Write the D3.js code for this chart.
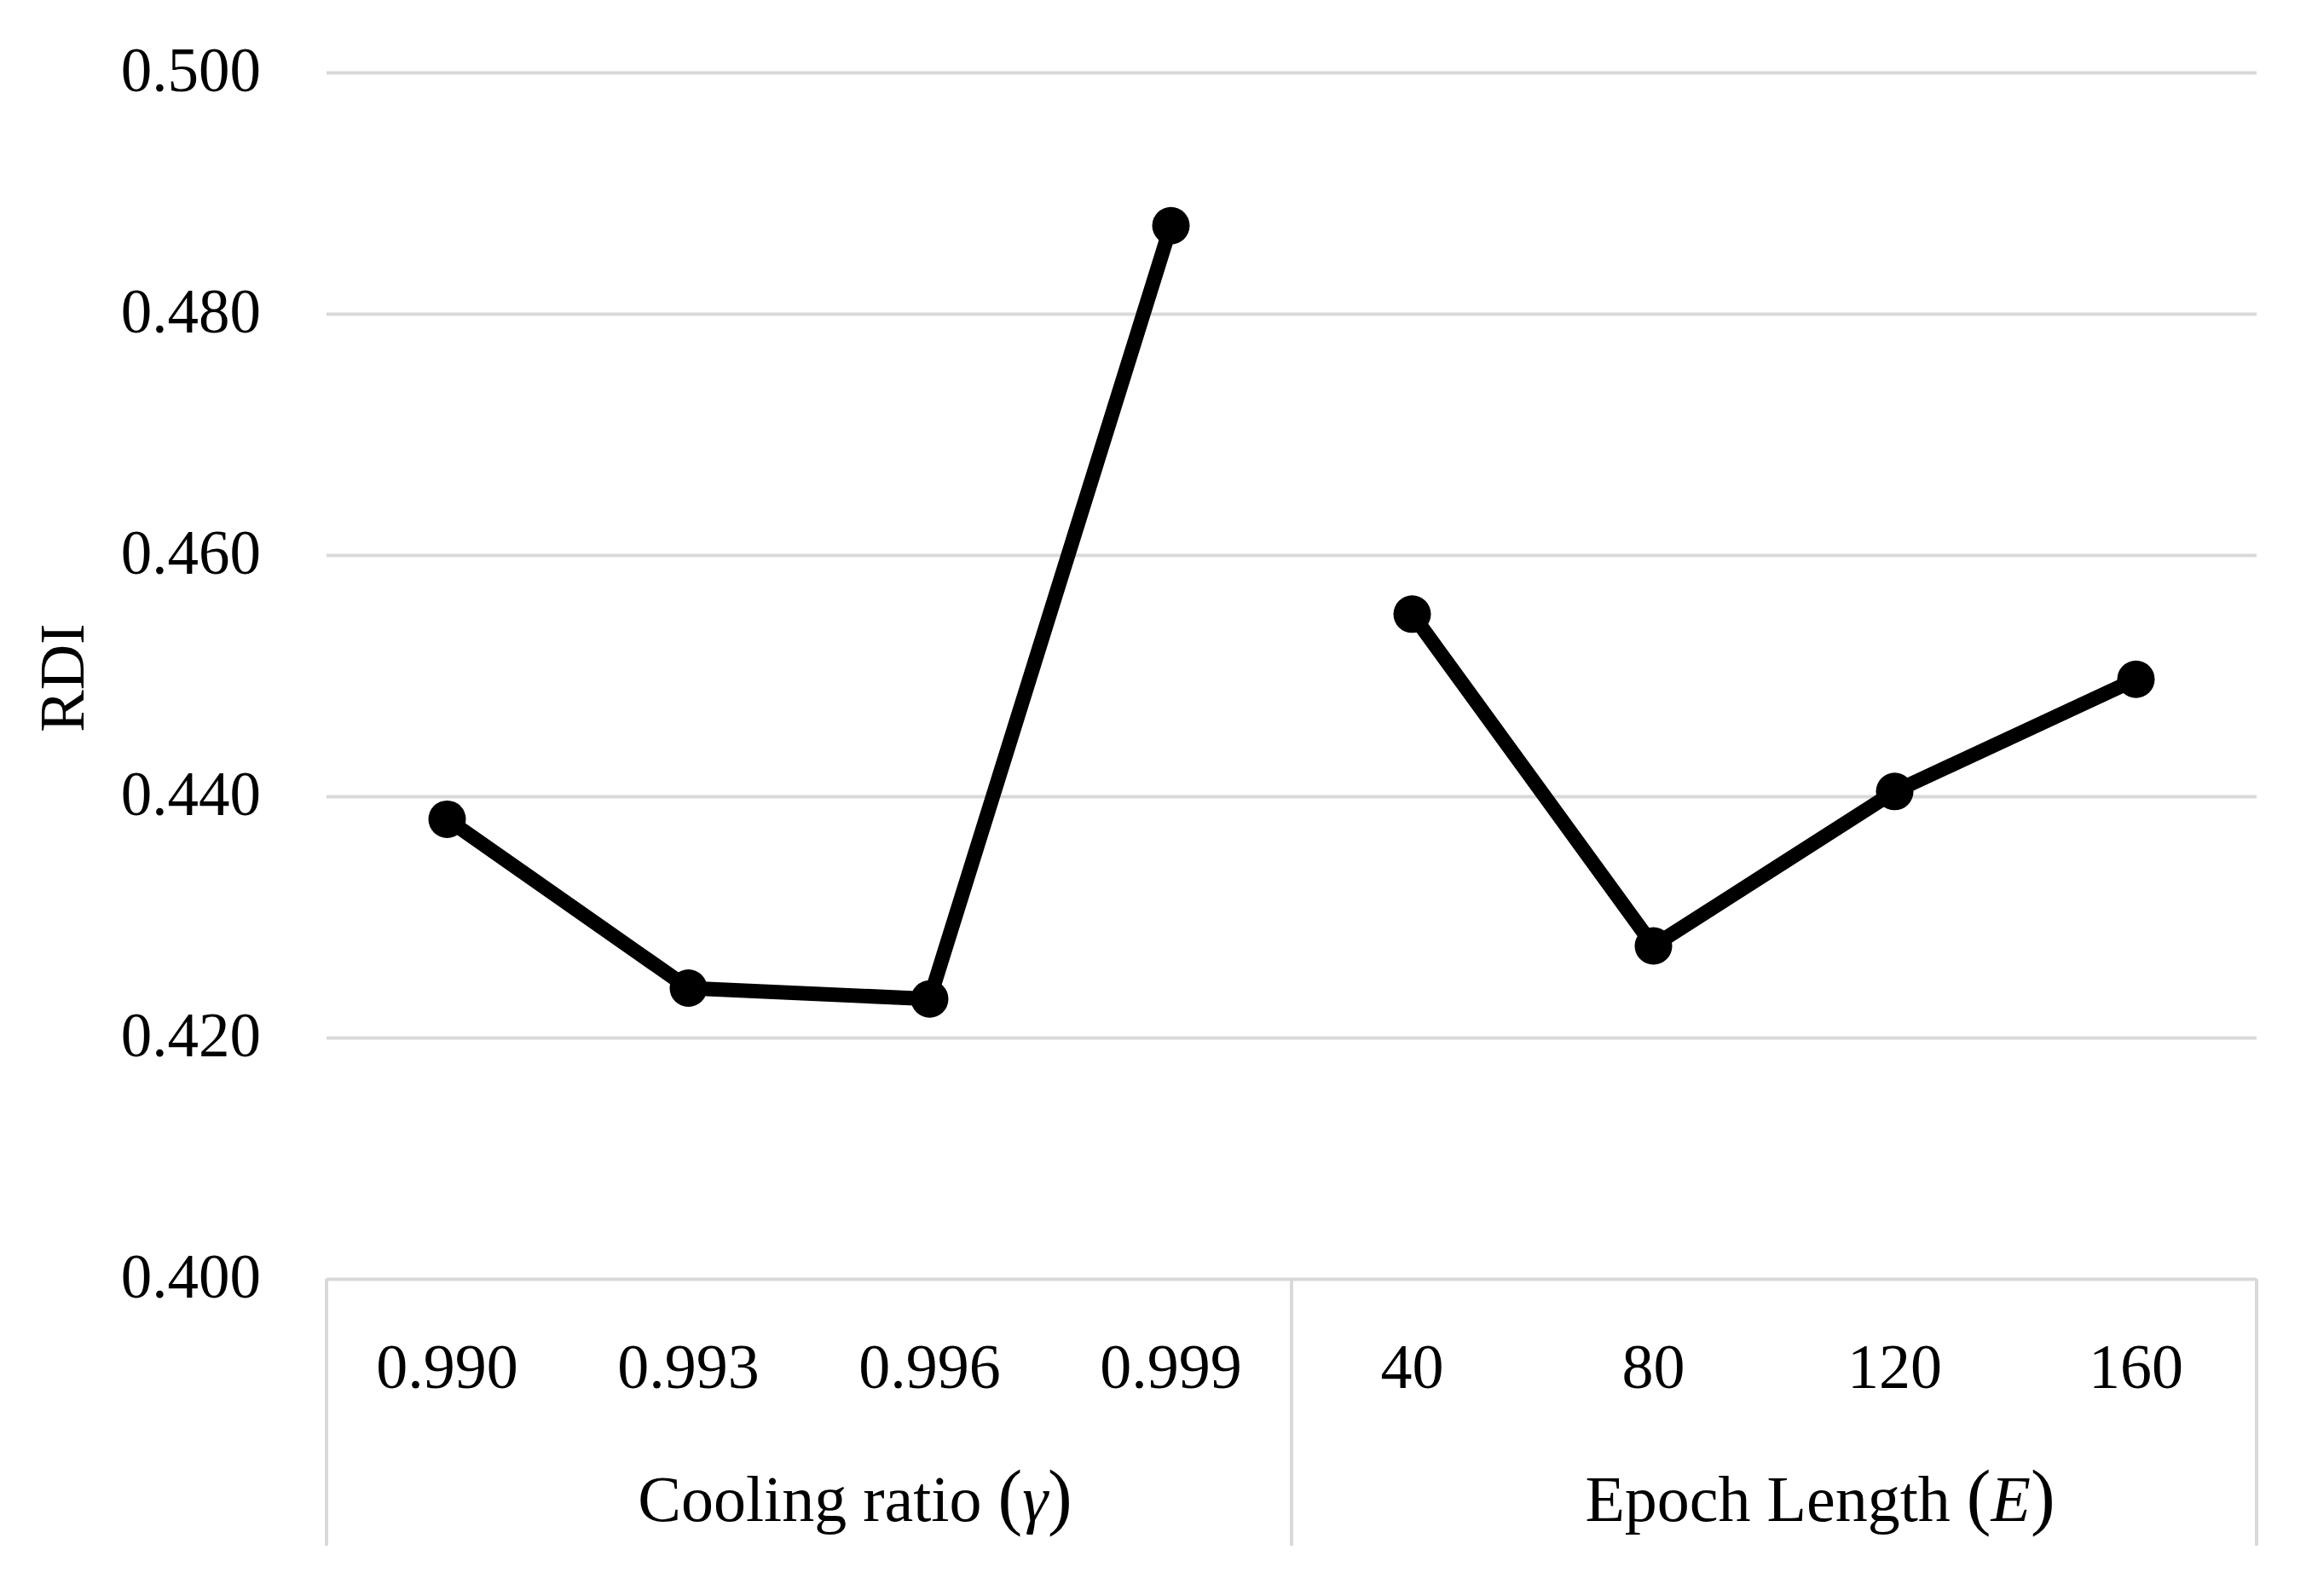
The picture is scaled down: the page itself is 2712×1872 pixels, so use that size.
<!DOCTYPE html>
<html>
<head>
<meta charset="utf-8">
<script src="https://cdn.jsdelivr.net/npm/d3@7"></script>
<style>
html,body{margin:0;padding:0;background:#fff;}
svg text{font-family:"Liberation Serif","DejaVu Serif",serif;fill:#000;}
</style>
</head>
<body>
<svg id="chart" width="2712" height="1872"></svg>
<script>
const groups = ["Cooling ratio", "Epoch Length"];
const groupSymbols = ["γ", "E"];
const coolingLabels = ["0.990", "0.993", "0.996", "0.999"];
const coolingValues = [0.4381, 0.4241, 0.4232, 0.4873];
const epochLabels = ["40", "80", "120", "160"];
const epochValues = [0.4551, 0.4276, 0.4404, 0.4497];
const yTicks = [0.400, 0.420, 0.440, 0.460, 0.480, 0.500];
const yLabel = "RDI";

const W = 2712, H = 1872;
const m = {left: 383, right: 2647, top: 85, bottom: 1500};
const svg = d3.select("#chart");

const cats = [...coolingLabels.map(l => "c" + l), ...epochLabels.map(l => "e" + l)];
const x = d3.scaleBand().domain(cats).range([m.left, m.right]).padding(0);
const y = d3.scaleLinear().domain([0.400, 0.500]).range([m.bottom, m.top]);

// gridlines via axis
const grid = svg.append("g")
  .attr("transform", `translate(${m.left},0)`)
  .call(d3.axisLeft(y).tickValues(yTicks).tickSize(-(m.right - m.left)).tickFormat(""));
grid.select(".domain").remove();
grid.selectAll(".tick line").attr("stroke", "#d9d9d9").attr("stroke-width", 4);

// y tick labels
const yAxis = svg.append("g")
  .attr("transform", `translate(${m.left},0)`)
  .call(d3.axisLeft(y).tickValues(yTicks).tickSize(0).tickPadding(77).tickFormat(d3.format(".3f")));
yAxis.select(".domain").remove();
yAxis.selectAll("text").attr("font-size", 73).attr("font-family", "Liberation Serif, serif").attr("dy", "0.3em");

// y label
svg.append("text")
  .attr("transform", `translate(98,795) rotate(-90)`)
  .attr("text-anchor", "middle")
  .attr("font-size", 74)
  .text(yLabel);

// category separator lines
const sepBottom = 1813;
const groupEdges = [x(cats[0]), x(cats[4]), x(cats[7]) + x.bandwidth()];
svg.selectAll(".sep").data(groupEdges).enter().append("line")
  .attr("x1", d => d).attr("x2", d => d)
  .attr("y1", m.bottom).attr("y2", sepBottom)
  .attr("stroke", "#d9d9d9").attr("stroke-width", 4);

// category labels
const allLabels = [...coolingLabels, ...epochLabels];
svg.selectAll(".cat").data(cats).enter().append("text")
  .attr("x", d => x(d) + x.bandwidth() / 2)
  .attr("y", 1628)
  .attr("text-anchor", "middle")
  .attr("font-size", 74)
  .text((d, i) => allLabels[i]);

// group labels
groups.forEach((g, i) => {
  const cx = (groupEdges[i] + groupEdges[i + 1]) / 2 + 54;
  const t = svg.append("text")
    .attr("x", cx).attr("y", 1784)
    .attr("text-anchor", "middle")
    .attr("font-size", 76);
  t.append("tspan").text(g + " ");
  t.append("tspan").attr("font-size", 86).text("(");
  t.append("tspan").attr("font-style", "italic").text(groupSymbols[i]);
  t.append("tspan").attr("font-size", 86).text(")");
});

// lines
const series = [
  coolingLabels.map((l, i) => ({k: "c" + l, v: coolingValues[i]})),
  epochLabels.map((l, i) => ({k: "e" + l, v: epochValues[i]}))
];
const line = d3.line().x(d => x(d.k) + x.bandwidth() / 2).y(d => y(d.v));
series.forEach(s => {
  svg.append("path").datum(s)
    .attr("d", line)
    .attr("fill", "none")
    .attr("stroke", "#000")
    .attr("stroke-width", 17)
    .attr("stroke-linejoin", "round");
  svg.selectAll(null).data(s).enter().append("circle")
    .attr("cx", d => x(d.k) + x.bandwidth() / 2)
    .attr("cy", d => y(d.v))
    .attr("r", 22)
    .attr("fill", "#000");
});
</script>
</body>
</html>
